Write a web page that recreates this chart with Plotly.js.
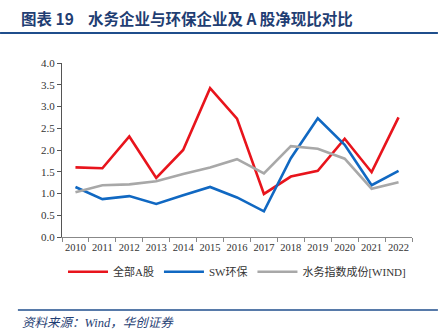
<!DOCTYPE html>
<html><head><meta charset="utf-8">
<script src="https://cdn.plot.ly/plotly-3.0.1.min.js"></script>
<style>body{margin:0;background:#fff}#c{width:446px;height:335px}</style>
</head><body><div id="c"></div>
<script>
const years = ['2010','2011','2012','2013','2014','2015','2016','2017','2018','2019','2020','2021','2022'];
const allA = [1.60,1.58,2.31,1.36,2.00,3.42,2.72,0.99,1.39,1.52,2.26,1.49,2.75];
const swEnv = [1.15,0.87,0.94,0.76,0.96,1.15,0.91,0.59,1.81,2.73,2.12,1.19,1.52];
const water = [1.03,1.19,1.21,1.28,1.45,1.60,1.79,1.46,2.09,2.03,1.80,1.11,1.26];
const names = ['全部A股','SW环保','水务指数成份[WIND]'];
const colors = ['#e8141c','#1068c2','#a8a8a8'];
const series = [allA, swEnv, water];
const cjk = '"Liberation Serif","Noto Sans CJK SC",serif';
const traces = series.map((s,i)=>({x:years,y:s,name:names[i],type:'scatter',mode:'lines',
  line:{color:colors[i],width:2.6}}));
const layout = {
  width:446,height:335,margin:{l:62,r:34,t:63,b:98},
  paper_bgcolor:'#fff',plot_bgcolor:'#fff',
  font:{family:cjk,size:11,color:'#333'},
  xaxis:{type:'category',range:[-0.5,12.5],tickson:'boundaries',ticks:'outside',ticklen:4,
    tickangle:0,tickcolor:'#888',showline:true,linecolor:'#888',linewidth:1,showgrid:false,
    tickfont:{family:cjk,size:10.5,color:'#333'}},
  yaxis:{range:[0,4],dtick:0.5,tickformat:'.1f',ticks:'outside',ticklen:4,tickcolor:'#555',
    showline:true,linecolor:'#555',showgrid:false,zeroline:false,
    tickfont:{family:cjk,size:11,color:'#333'}},
  showlegend:true,
  legend:{orientation:'h',x:0.5,xanchor:'center',y:-0.2,yanchor:'middle',
    font:{family:cjk,size:11,color:'#333'},itemwidth:40,tracegroupgap:0},
  shapes:[
    {type:'line',xref:'paper',yref:'paper',x0:-0.177,x1:1.074,y0:1.172,y1:1.172,line:{color:'#1f4e8c',width:2}},
    {type:'line',xref:'paper',yref:'paper',x0:-0.126,x1:1.074,y0:-0.42,y1:-0.42,line:{color:'#1f4e8c',width:1.5}}
  ],
  annotations:[
    {xref:'paper',yref:'paper',x:-0.123,y:1.258,xanchor:'left',yanchor:'middle',showarrow:false,
     text:'<b>图表 19    水务企业与环保企业及 A 股净现比对比</b>',
     font:{family:'"Noto Sans CJK SC",sans-serif',size:15.5,color:'#1f3e73'}},
    {xref:'paper',yref:'paper',x:-0.12,y:-0.494,xanchor:'left',yanchor:'middle',showarrow:false,
     text:'<i>资料来源：Wind，华创证券</i>',
     font:{family:'"Liberation Serif","Noto Sans CJK SC",serif',size:12.5,color:'#1f3e73'}}
  ]
};
Plotly.newPlot('c',traces,layout,{displayModeBar:false,staticPlot:true});
</script></body></html>
